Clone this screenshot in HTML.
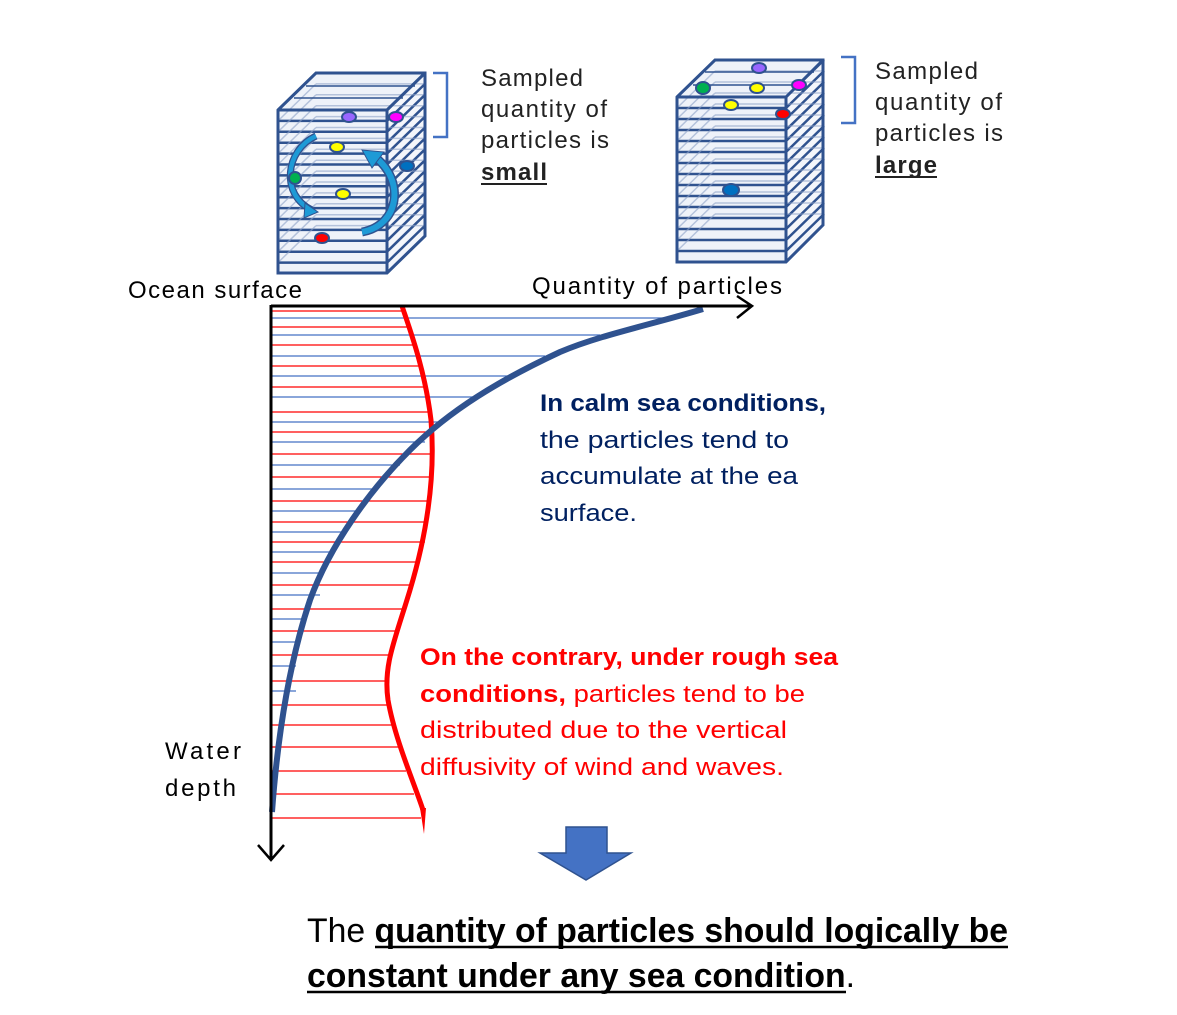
<!DOCTYPE html>
<html><head><meta charset="utf-8"><style>
html,body{margin:0;padding:0;background:#fff;}
svg{display:block;}
text{font-family:"Liberation Sans",sans-serif;}
</style></head><body>
<svg width="1177" height="1015" viewBox="0 0 1177 1015" xmlns="http://www.w3.org/2000/svg">
<defs>
<g id="slab">
  <line x1="0" y1="0" x2="109" y2="0" stroke="#2f528f" stroke-width="2.5"/>
  <line x1="109" y1="0" x2="147" y2="-37" stroke="#2f528f" stroke-width="2.5"/>
  <line x1="38" y1="-37" x2="147" y2="-37" stroke="#8fa3c8" stroke-width="1.5" opacity="0.6"/>
  <line x1="0" y1="0" x2="38" y2="-37" stroke="#8fa3c8" stroke-width="1.5" opacity="0.6"/>
</g>
</defs>

<!-- Left box -->
<g>
  <polygon points="278,110 316,73 425,73 387,110" fill="#eef2f9"/>
  <rect x="278" y="110" width="109" height="163" fill="#eef2f9"/>
  <polygon points="387,110 425,73 425,236 387,273" fill="#f4f6fb"/>
  <g transform="translate(278,110)">
    <use href="#slab" y="0"/><use href="#slab" y="10.9"/><use href="#slab" y="21.8"/><use href="#slab" y="32.7"/>
    <use href="#slab" y="43.6"/><use href="#slab" y="54.5"/><use href="#slab" y="65.4"/><use href="#slab" y="76.3"/>
    <use href="#slab" y="87.2"/><use href="#slab" y="98.1"/><use href="#slab" y="109"/><use href="#slab" y="119.9"/>
    <use href="#slab" y="130.8"/><use href="#slab" y="141.7"/><use href="#slab" y="152.6"/>
  </g>
  <line x1="294" y1="98" x2="403" y2="98" stroke="#2f528f" stroke-width="1.5"/>
  <line x1="306" y1="86" x2="415" y2="86" stroke="#2f528f" stroke-width="1.5"/>
  <polygon points="278,110 316,73 425,73 425,236 387,273 278,273" fill="none" stroke="#2f528f" stroke-width="3"/>
  <line x1="387" y1="110" x2="387" y2="273" stroke="#2f528f" stroke-width="3"/>
  <line x1="278" y1="110" x2="387" y2="110" stroke="#2f528f" stroke-width="3"/>
  <line x1="387" y1="110" x2="425" y2="73" stroke="#2f528f" stroke-width="3"/>
  <path d="M316,136 C285,150 280,195 312,210" fill="none" stroke="#2f528f" stroke-width="7"/>
  <path d="M316,136 C285,150 280,195 312,210" fill="none" stroke="#1e9ad6" stroke-width="4.5"/>
  <polygon points="305,203 318,212 304,218" fill="#1e9ad6" stroke="#2f528f" stroke-width="1"/>
  <path d="M375,157 C405,180 400,225 362,232" fill="none" stroke="#2f528f" stroke-width="9"/>
  <path d="M375,157 C405,180 400,225 362,232" fill="none" stroke="#1e9ad6" stroke-width="6"/>
  <polygon points="362,150 384,152 372,168" fill="#1e9ad6" stroke="#2f528f" stroke-width="1"/>
  <ellipse cx="349" cy="117" rx="7" ry="5" fill="#9966ff" stroke="#2f528f" stroke-width="2"/>
  <ellipse cx="396" cy="117" rx="7" ry="5" fill="#ff00ff" stroke="#2f528f" stroke-width="2"/>
  <ellipse cx="337" cy="147" rx="7" ry="5" fill="#ffff00" stroke="#2f528f" stroke-width="2"/>
  <ellipse cx="407" cy="166" rx="7" ry="5" fill="#0070c0" stroke="#2f528f" stroke-width="2"/>
  <ellipse cx="295" cy="178" rx="6" ry="6" fill="#00b050" stroke="#2f528f" stroke-width="2"/>
  <ellipse cx="343" cy="194" rx="7" ry="5" fill="#ffff00" stroke="#2f528f" stroke-width="2"/>
  <ellipse cx="322" cy="238" rx="7" ry="5" fill="#ff0000" stroke="#2f528f" stroke-width="2"/>
</g>
<path d="M433,73 H447 V137 H433" fill="none" stroke="#4472c4" stroke-width="2.5"/>

<!-- Right box -->
<g>
  <polygon points="677,97 715,60 823,60 786,97" fill="#eef2f9"/>
  <rect x="677" y="97" width="109" height="165" fill="#eef2f9"/>
  <polygon points="786,97 823,60 823,225 786,262" fill="#f4f6fb"/>
  <g transform="translate(677,97)">
    <use href="#slab" y="0"/><use href="#slab" y="11"/><use href="#slab" y="22"/><use href="#slab" y="33"/>
    <use href="#slab" y="44"/><use href="#slab" y="55"/><use href="#slab" y="66"/><use href="#slab" y="77"/>
    <use href="#slab" y="88"/><use href="#slab" y="99"/><use href="#slab" y="110"/><use href="#slab" y="121"/>
    <use href="#slab" y="132"/><use href="#slab" y="143"/><use href="#slab" y="154"/>
  </g>
  <line x1="693" y1="85" x2="802" y2="85" stroke="#2f528f" stroke-width="1.5"/>
  <line x1="705" y1="72" x2="814" y2="72" stroke="#2f528f" stroke-width="1.5"/>
  <polygon points="677,97 715,60 823,60 823,225 786,262 677,262" fill="none" stroke="#2f528f" stroke-width="3"/>
  <line x1="786" y1="97" x2="786" y2="262" stroke="#2f528f" stroke-width="3"/>
  <line x1="677" y1="97" x2="786" y2="97" stroke="#2f528f" stroke-width="3"/>
  <line x1="786" y1="97" x2="823" y2="60" stroke="#2f528f" stroke-width="3"/>
  <ellipse cx="759" cy="68" rx="7" ry="5" fill="#9966ff" stroke="#2f528f" stroke-width="2"/>
  <ellipse cx="703" cy="88" rx="7" ry="6" fill="#00b050" stroke="#2f528f" stroke-width="2"/>
  <ellipse cx="757" cy="88" rx="7" ry="5" fill="#ffff00" stroke="#2f528f" stroke-width="2"/>
  <ellipse cx="799" cy="85" rx="7" ry="5" fill="#ff00ff" stroke="#2f528f" stroke-width="2"/>
  <ellipse cx="731" cy="105" rx="7" ry="5" fill="#ffff00" stroke="#2f528f" stroke-width="2"/>
  <ellipse cx="783" cy="114" rx="7" ry="5" fill="#ff0000" stroke="#2f528f" stroke-width="2"/>
  <ellipse cx="731" cy="190" rx="8" ry="6" fill="#0070c0" stroke="#2f528f" stroke-width="2"/>
</g>
<path d="M841,57 H855 V123 H841" fill="none" stroke="#4472c4" stroke-width="2.5"/>

<g font-size="24" fill="#222">
  <text x="481" y="86" textLength="102">Sampled</text>
  <text x="481" y="117" textLength="126">quantity of</text>
  <text x="481" y="148" textLength="128">particles is</text>
  <text x="481" y="180" font-weight="bold" textLength="66">small</text>
  <line x1="481" y1="184" x2="547" y2="184" stroke="#222" stroke-width="2"/>
  <text x="875" y="79" textLength="103">Sampled</text>
  <text x="875" y="110" textLength="127">quantity of</text>
  <text x="875" y="141" textLength="128">particles is</text>
  <text x="875" y="173" font-weight="bold" textLength="62">large</text>
  <line x1="875" y1="177" x2="937" y2="177" stroke="#222" stroke-width="2"/>
</g>

<g stroke="#ff0000" stroke-width="1.2">
  <line x1="271" y1="311" x2="406" y2="311"/><line x1="271" y1="327" x2="410" y2="327"/>
  <line x1="271" y1="345" x2="415" y2="345"/><line x1="271" y1="366" x2="422" y2="366"/>
  <line x1="271" y1="387" x2="427" y2="387"/><line x1="271" y1="412" x2="430" y2="412"/>
  <line x1="271" y1="432" x2="432" y2="432"/><line x1="271" y1="454" x2="432" y2="454"/>
  <line x1="271" y1="477" x2="431" y2="477"/><line x1="271" y1="501" x2="430" y2="501"/>
  <line x1="271" y1="522" x2="428" y2="522"/><line x1="271" y1="542" x2="425" y2="542"/>
  <line x1="271" y1="562" x2="420" y2="562"/><line x1="271" y1="585" x2="413" y2="585"/>
  <line x1="271" y1="609" x2="405" y2="609"/><line x1="271" y1="631" x2="398" y2="631"/>
  <line x1="271" y1="655" x2="389" y2="655"/><line x1="271" y1="681" x2="386" y2="681"/>
  <line x1="271" y1="705" x2="388" y2="705"/><line x1="271" y1="725" x2="392" y2="725"/>
  <line x1="271" y1="747" x2="398" y2="747"/><line x1="271" y1="771" x2="406" y2="771"/>
  <line x1="271" y1="794" x2="414" y2="794"/><line x1="271" y1="818" x2="421" y2="818"/>
</g>
<g stroke="#4472c4" stroke-width="1.2">
  <line x1="271" y1="318" x2="665" y2="318"/><line x1="271" y1="335" x2="600" y2="335"/>
  <line x1="271" y1="356" x2="545" y2="356"/><line x1="271" y1="376" x2="515" y2="376"/>
  <line x1="271" y1="397" x2="480" y2="397"/><line x1="271" y1="422" x2="443" y2="422"/>
  <line x1="271" y1="442" x2="425" y2="442"/><line x1="271" y1="465" x2="400" y2="465"/>
  <line x1="271" y1="489" x2="378" y2="489"/><line x1="271" y1="511" x2="360" y2="511"/>
  <line x1="271" y1="532" x2="345" y2="532"/><line x1="271" y1="552" x2="333" y2="552"/>
  <line x1="271" y1="573" x2="322" y2="573"/><line x1="271" y1="595" x2="320" y2="595"/>
  <line x1="271" y1="619" x2="303" y2="619"/><line x1="271" y1="642" x2="296" y2="642"/>
  <line x1="271" y1="666" x2="296" y2="666"/><line x1="271" y1="691" x2="296" y2="691"/>
</g>

<path d="M402,306 C410,330 425,370 431,420 C436,480 425,540 410,590 C395,640 383,665 388,700 C395,740 415,785 423,810" fill="none" stroke="#ff0000" stroke-width="5"/>
<polygon points="420,808 426,808 424,834" fill="#ff0000"/>
<path d="M703,309 C650,325 600,335 560,352 C500,380 450,410 410,450 C370,490 330,545 310,600 C290,660 278,730 272,812" fill="none" stroke="#2f528f" stroke-width="6"/>

<line x1="271" y1="306" x2="752" y2="306" stroke="#000" stroke-width="3"/>
<polyline points="737,296 752,306 737,318" fill="none" stroke="#000" stroke-width="2.5"/>
<line x1="271" y1="305" x2="271" y2="860" stroke="#000" stroke-width="3"/>
<polyline points="258,845 271,860 284,845" fill="none" stroke="#000" stroke-width="2.5"/>

<g font-size="24" fill="#000">
  <text x="128" y="298" textLength="174">Ocean surface</text>
  <text x="532" y="294" textLength="250">Quantity of particles</text>
  <text x="165" y="759" textLength="76">Water</text>
  <text x="165" y="796" textLength="71">depth</text>
</g>

<g font-size="24" fill="#002060">
  <text x="540" y="411" font-weight="bold" textLength="286" lengthAdjust="spacingAndGlyphs">In calm sea conditions,</text>
  <text x="540" y="448" textLength="249" lengthAdjust="spacingAndGlyphs">the particles tend to</text>
  <text x="540" y="484" textLength="258" lengthAdjust="spacingAndGlyphs">accumulate at the ea</text>
  <text x="540" y="521" textLength="97" lengthAdjust="spacingAndGlyphs">surface.</text>
</g>
<g font-size="24" fill="#ff0000">
  <text x="420" y="665" font-weight="bold" textLength="418" lengthAdjust="spacingAndGlyphs">On the contrary, under rough sea</text>
  <text x="420" y="702" textLength="385" lengthAdjust="spacingAndGlyphs"><tspan font-weight="bold">conditions,</tspan> particles tend to be</text>
  <text x="420" y="738" textLength="367" lengthAdjust="spacingAndGlyphs">distributed due to the vertical</text>
  <text x="420" y="775" textLength="364" lengthAdjust="spacingAndGlyphs">diffusivity of wind and waves.</text>
</g>

<polygon points="566,827 607,827 607,853 631,853 586,880 540,853 566,853" fill="#4472c4" stroke="#2f528f" stroke-width="1.5"/>

<g font-size="34" fill="#000">
  <text x="307" y="942" textLength="701" lengthAdjust="spacingAndGlyphs">The <tspan font-weight="bold">quantity of particles should logically be</tspan></text>
  <line x1="375" y1="947" x2="1008" y2="947" stroke="#000" stroke-width="2.5"/>
  <text x="307" y="987" textLength="548" lengthAdjust="spacingAndGlyphs"><tspan font-weight="bold">constant under any sea condition</tspan>.</text>
  <line x1="307" y1="992" x2="846" y2="992" stroke="#000" stroke-width="2.5"/>
</g>
</svg>
</body></html>
